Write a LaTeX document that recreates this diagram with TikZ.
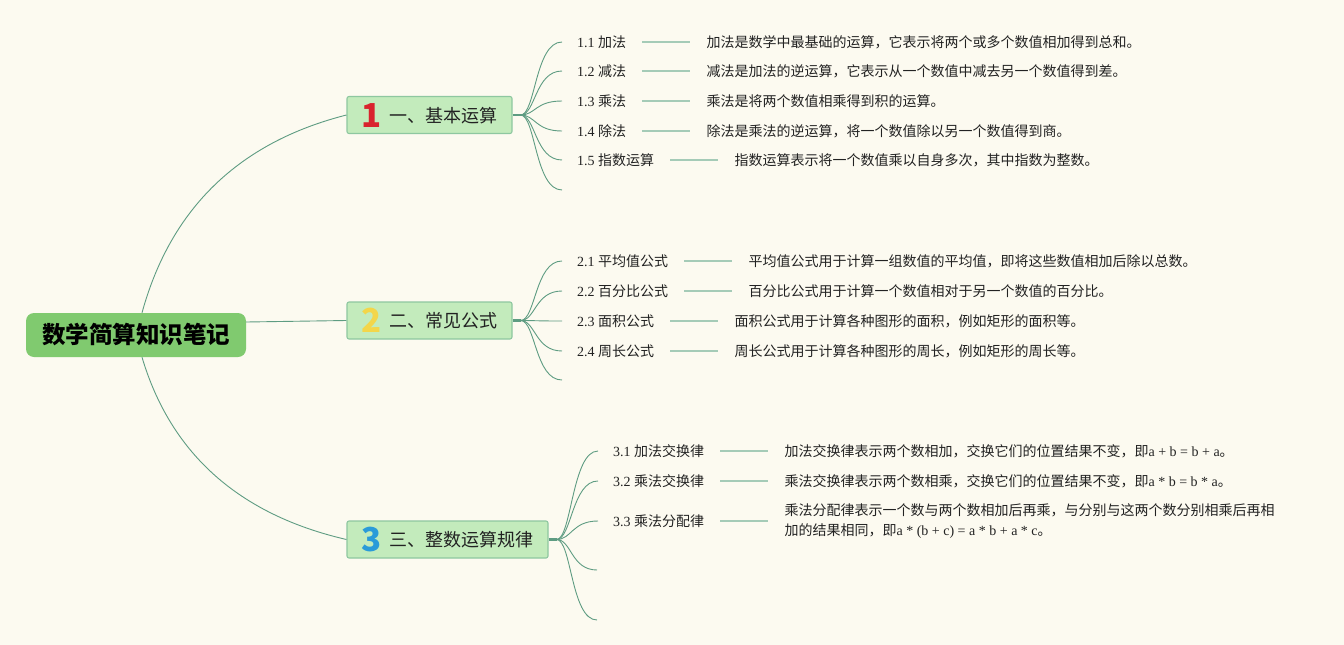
\documentclass[tikz,border=0pt]{standalone}
\usepackage{fontspec}
\setmainfont{Liberation Serif}
\newfontfamily\cjk{Noto Sans CJK SC}
\usetikzlibrary{calc}
\definecolor{bg}{HTML}{FCFAF0}
\definecolor{cn}{HTML}{5E9C82}
\definecolor{ln}{HTML}{A5CBB7}
\definecolor{rootfill}{HTML}{80CA6F}
\definecolor{brfill}{HTML}{C3EBBC}
\definecolor{brdraw}{HTML}{8EC7A0}
\definecolor{nred}{HTML}{D9232D}
\definecolor{nyel}{HTML}{F3D64A}
\definecolor{nblu}{HTML}{2A9BD9}
\definecolor{tx}{HTML}{222222}
\newcommand\lat[1]{{\rmfamily #1}}
\newcommand\bnum[2]{\raisebox{-5pt}{\cjk\bfseries\fontsize{33}{33}\selectfont\textcolor{#1}{#2}}\hspace{7pt}}
\begin{document}
\begin{tikzpicture}[x=1pt,y=-1pt,
 conn/.style={draw=cn, line width=0.9pt},
 stub/.style={draw=cn, line width=2.2pt},
 leafline/.style={draw=ln, line width=1.4pt},
 rootbox/.style={fill=rootfill, rounded corners=8pt, minimum width=220pt, minimum height=44pt, inner sep=0pt, font=\cjk\bfseries\fontsize{23.5}{28}\selectfont, text=black},
 brbox/.style={fill=brfill, draw=brdraw, line width=1.1pt, rounded corners=2pt, minimum height=37pt, inner sep=0pt, text height=14pt, text depth=0pt, font=\cjk\fontsize{18}{22}\selectfont, text=tx},
 leaf/.style={anchor=base west, inner sep=0pt, text height=10pt, text depth=0pt, font=\fontsize{14}{20}\selectfont, text=tx},
 desc/.style={anchor=west, inner sep=0pt, text height=10pt, text depth=0pt, font=\cjk\fontsize{14}{20}\selectfont, text=tx},
 descml/.style={anchor=west, inner sep=0pt, align=left, font=\cjk\fontsize{14}{20}\selectfont, text=tx},
]
\useasboundingbox (0,0) rectangle (1344,645);
\fill[bg] (0,0) rectangle (1344,645);

% root and branches
\node[rootbox] (root) at (136,335) {数学简算知识笔记};
\node[brbox, minimum width=165pt] (b1) at (429.5,115) {\bnum{nred}{1}一、基本运算};
\node[brbox, minimum width=165pt] (b2) at (429.5,320.5) {\bnum{nyel}{2}二、常见公式};
\node[brbox, minimum width=201pt] (b3) at (447.5,539.5) {\bnum{nblu}{3}三、整数运算规律};

\draw[conn] ([xshift=6pt]root.north) .. controls (170.7,208.3) and (239,142.3) .. (b1.west);
\draw[conn] ([yshift=13pt]root.east) -- (b2.west);
\draw[conn] ([xshift=6pt]root.south) .. controls (170.7,453.7) and (239,514.7) .. (b3.west);

\coordinate (j1) at ([xshift=8pt]b1.east);
\coordinate (j2) at ([xshift=8pt]b2.east);
\coordinate (j3) at ([xshift=8pt]b3.east);
\draw[stub] (b1.east) -- (j1);
\draw[stub] (b2.east) -- (j2);
\draw[stub] (b3.east) -- (j3);

% branch 1
\node[leaf] (l11) at (577,47) {1.1 {\cjk 加法}};
\node[leaf] (l12) at (577,76) {1.2 {\cjk 减法}};
\node[leaf] (l13) at (577,106) {1.3 {\cjk 乘法}};
\node[leaf] (l14) at (577,136) {1.4 {\cjk 除法}};
\node[leaf] (l15) at (577,165) {1.5 {\cjk 指数运算}};
\coordinate (e16) at (562,190);
\node[desc] (d11) at ([xshift=80pt]l11.east) {加法是数学中最基础的运算，它表示将两个或多个数值相加得到总和。};
\node[desc] (d12) at ([xshift=80pt]l12.east) {减法是加法的逆运算，它表示从一个数值中减去另一个数值得到差。};
\node[desc] (d13) at ([xshift=80pt]l13.east) {乘法是将两个数值相乘得到积的运算。};
\node[desc] (d14) at ([xshift=80pt]l14.east) {除法是乘法的逆运算，将一个数值除以另一个数值得到商。};
\node[desc] (d15) at ([xshift=80pt]l15.east) {指数运算表示将一个数值乘以自身多次，其中指数为整数。};
\foreach \n in {11,12,13,14,15}{
  \draw[conn] (j1) .. controls +(15,0) and +(-27,0) .. ($(l\n.west)+(-15,0)$);
  \draw[leafline] ([xshift=16pt]l\n.east) -- ([xshift=-16pt]d\n.west);
}
\draw[conn] (j1) .. controls +(15,0) and +(-27,0) .. (e16);

% branch 2
\node[leaf] (l21) at (577,266) {2.1 {\cjk 平均值公式}};
\node[leaf] (l22) at (577,296) {2.2 {\cjk 百分比公式}};
\node[leaf] (l23) at (577,326) {2.3 {\cjk 面积公式}};
\node[leaf] (l24) at (577,356) {2.4 {\cjk 周长公式}};
\coordinate (e25) at (562,380);
\node[desc] (d21) at ([xshift=80pt]l21.east) {平均值公式用于计算一组数值的平均值，即将这些数值相加后除以总数。};
\node[desc] (d22) at ([xshift=80pt]l22.east) {百分比公式用于计算一个数值相对于另一个数值的百分比。};
\node[desc] (d23) at ([xshift=80pt]l23.east) {面积公式用于计算各种图形的面积，例如矩形的面积等。};
\node[desc] (d24) at ([xshift=80pt]l24.east) {周长公式用于计算各种图形的周长，例如矩形的周长等。};
\foreach \n in {21,22,23,24}{
  \draw[conn] (j2) .. controls +(15,0) and +(-27,0) .. ($(l\n.west)+(-15,0)$);
  \draw[leafline] ([xshift=16pt]l\n.east) -- ([xshift=-16pt]d\n.west);
}
\draw[conn] (j2) .. controls +(15,0) and +(-27,0) .. (e25);

% branch 3
\node[leaf] (l31) at (613,456) {3.1 {\cjk 加法交换律}};
\node[leaf] (l32) at (613,486) {3.2 {\cjk 乘法交换律}};
\node[leaf] (l33) at (613,526) {3.3 {\cjk 乘法分配律}};
\coordinate (e34) at (597,570);
\coordinate (e35) at (597,620);
\node[desc] (d31) at ([xshift=80pt]l31.east) {加法交换律表示两个数相加，交换它们的位置结果不变，即\lat{a + b = b + a}。};
\node[desc] (d32) at ([xshift=80pt]l32.east) {乘法交换律表示两个数相乘，交换它们的位置结果不变，即\lat{a * b = b * a}。};
\node[descml] (d33) at ([xshift=80pt]l33.east) {乘法分配律表示一个数与两个数相加后再乘，与分别与这两个数分别相乘后再相\\加的结果相同，即\lat{a * (b + c) = a * b + a * c}。};
\foreach \n in {31,32,33}{
  \draw[conn] (j3) .. controls +(15,0) and +(-26,0) .. ($(l\n.west)+(-15,0)$);
  \draw[leafline] ([xshift=16pt]l\n.east) -- ([xshift=-16pt]d\n.west);
}
\draw[conn] (j3) .. controls +(15,0) and +(-26,0) .. (e34);
\draw[conn] (j3) .. controls +(15,0) and +(-26,0) .. (e35);
\end{tikzpicture}
\end{document}
